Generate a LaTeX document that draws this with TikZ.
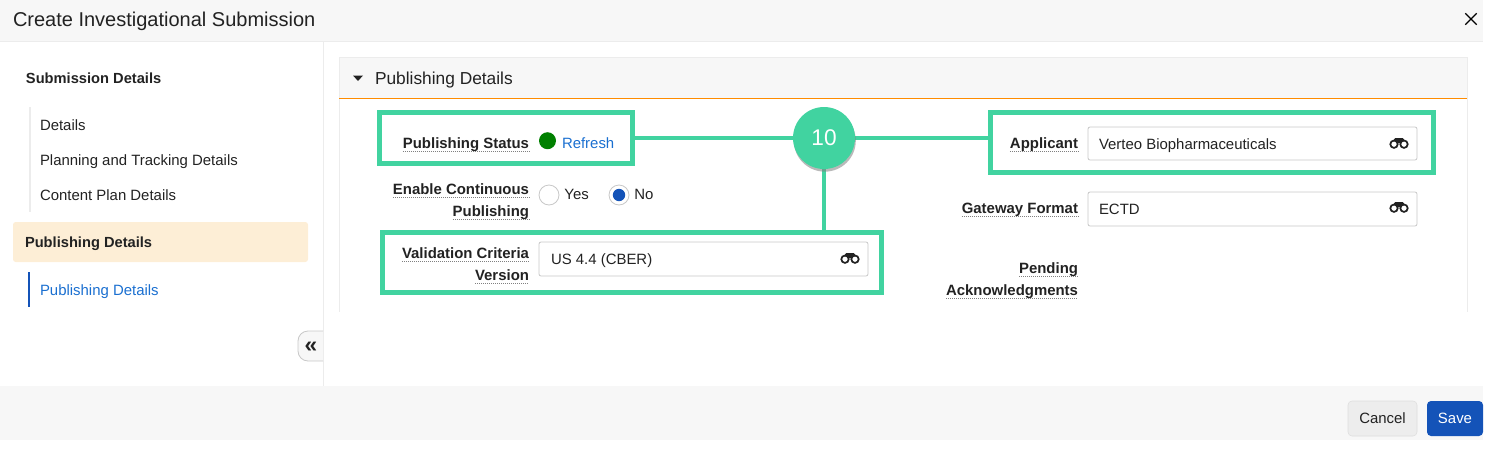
\documentclass[tikz,border=0pt]{standalone}
\usepackage{fontspec}
\setmainfont{Liberation Sans}
\usetikzlibrary{positioning}
\usetikzlibrary{shapes.misc}
\usetikzlibrary{shadows}
\newcommand{\Px}{0.75pt}
\definecolor{ink}{HTML}{222222}
\definecolor{callout}{HTML}{41D3A0}
\definecolor{barbg}{HTML}{F7F7F7}
\definecolor{rule}{HTML}{ECECEC}
\definecolor{fieldrule}{HTML}{C8C8C8}
\definecolor{linkblue}{HTML}{1A6FD0}
\definecolor{btnblue}{HTML}{1453B8}
\definecolor{activebg}{HTML}{FDEED6}
\tikzstyle{bar} = [rectangle,fill=barbg,draw=none,inner sep=0pt,outer sep=0pt]
\tikzstyle{txt} = [inner sep=0pt,outer sep=0pt,text=ink,font=\fontsize{11.2}{13}\selectfont,anchor=base west]
\tikzstyle{menuhead} = [txt,font=\fontsize{11}{13}\bfseries\selectfont]
\tikzstyle{fieldlabel} = [txt,font=\fontsize{11.2}{13}\bfseries\selectfont,anchor=base east]
\tikzstyle{field} = [rectangle,draw=fieldrule,fill=white,rounded corners=1.5pt,line width=0.6pt,minimum width=329*\Px,inner sep=0pt]
\tikzstyle{greenbox} = [rectangle,draw=callout,line width=5*\Px,inner sep=0pt,outer sep=0pt]
\tikzstyle{radio} = [circle,draw=fieldrule,fill=white,line width=0.6pt,minimum size=20*\Px,inner sep=0pt]
\tikzstyle{btn} = [rectangle,rounded corners=3pt,minimum height=35*\Px,inner sep=0pt,font=\fontsize{11.2}{13}\selectfont]
\tikzstyle{link} = [draw=callout,line width=4*\Px]
\tikzstyle{dotline} = [draw=black!50,line width=0.5pt,dash pattern=on 0.75pt off 0.75pt]
\tikzset{binoc/.pic={
	\fill[ink,rounded corners=1pt] (-5,-5) rectangle (5,0);
	\draw[ink,line width=1.3pt,fill=white] (-5,1.2) circle (3.7) (5,1.2) circle (3.7);
}}

\begin{document}
\begin{tikzpicture}[x=\Px,y=-\Px]
\useasboundingbox (0,0) rectangle (1507,461);

% Header and footer
\node[bar,minimum width=1483*\Px,minimum height=41*\Px] (head) at (741.5,20.5) {};
\node[bar,minimum width=1483*\Px,minimum height=54*\Px] (foot) at (741.5,413) {};
\draw[rule,line width=0.7pt] (head.south west) -- (head.south east);
\node[txt,font=\fontsize{15}{18}\selectfont] (title) at (13,26) {Create Investigational Submission};
\node[cross out,draw=black,line width=1pt,minimum size=10*\Px,inner sep=0pt] (close) at (1471,19) {};
\coordinate (divtop) at (323.5,42);
\draw[rule,line width=0.7pt] (divtop) -- (divtop |- foot.north);

% Left menu
\node[menuhead] (subm) at (26,83) {Submission Details};
\draw[rule,line width=1.5pt] (29.5,107) -- (29.5,212);
\node[txt] (det) at (40,130) {Details};
\node[txt] (plan) at (40,165) {Planning and Tracking Details};
\node[txt] (cont) at (40,200) {Content Plan Details};
\node[rectangle,fill=activebg,rounded corners=2pt,minimum width=295*\Px,minimum height=40*\Px,inner sep=0pt] (active) at (160.5,242) {};
\node[menuhead] (pubh) at (25,247) {Publishing Details};
\draw[btnblue,line width=1.5pt] (29,272) -- (29,307);
\node[txt,text=linkblue] (pubi) at (40,295) {Publishing Details};
\draw[fieldrule,fill=barbg,line width=0.6pt] (323,331) -- (308,331) to[out=180,in=90] (298,341) -- (298,351) to[out=270,in=180] (308,361) -- (323,361);
\node[inner sep=0pt,text=ink,font=\fontsize{17}{17}\bfseries\selectfont] (collapse) at (311,347.5) {«};

% Panel
\node[bar,minimum width=1128*\Px,minimum height=41*\Px] (phead) at (903,77.5) {};
\draw[rule,line width=0.6pt] (phead.south west) -- (339,312) (phead.south east) -- (1467,312);
\draw[rule,line width=0.6pt] (phead.south west) -- (phead.north west) -- (phead.north east) -- (phead.south east);
\draw[orange!90!yellow,line width=0.7pt] (phead.south west) -- (phead.south east);
\fill[ink] (353,75.5) -- (363,75.5) -- (358,81) -- cycle;
\node[txt,font=\fontsize{13}{15}\selectfont] (ptitle) at (375,84) {Publishing Details};

% Callout boxes
\node[greenbox,minimum width=253*\Px,minimum height=51*\Px] (statusbox) at (506,138) {};
\node[greenbox,minimum width=443*\Px,minimum height=60*\Px] (applbox) at (1212,142.5) {};
\node[greenbox,minimum width=498.5*\Px,minimum height=60*\Px] (valbox) at (631.75,262.5) {};

% Left column
\node[fieldlabel] (status) at (529,148) {Publishing Status};
\node[circle,fill=green!50!black,minimum size=17*\Px,inner sep=0pt] (dot) at (547.5,140.7) {};
\node[txt,text=linkblue] (refresh) at (562,148) {Refresh};
\node[fieldlabel] (cont1) at (529,194) {Enable Continuous};
\node[fieldlabel] (cont2) at (529,216) {Publishing};
\node[radio] (yes) at (549,195) {};
\node[txt,anchor=west,right=5*\Px of yes,yshift=0.3pt] (yestxt) {Yes};
\node[radio] (no) at (619,195) {};
\fill[btnblue] (no) circle (6.2);
\node[txt,anchor=west,right=5*\Px of no,yshift=0.3pt] (notxt) {No};
\node[fieldlabel] (val1) at (529,258) {Validation Criteria};
\node[fieldlabel] (val2) at (529,280) {Version};
\node[field,minimum height=34*\Px] (valf) at (703.5,259) {};
\node[txt] (valt) at (551,264) {US 4.4 (CBER)};
\pic at (850,258) {binoc};

% Right column
\node[fieldlabel] (appl) at (1078,148) {Applicant};
\node[field,minimum height=33*\Px] (applf) at (1252.5,143.5) {};
\node[txt] (applt) at (1099,149) {Verteo Biopharmaceuticals};
\pic at (1399,143) {binoc};
\node[fieldlabel] (gate) at (1078,213) {Gateway Format};
\node[field,minimum height=34*\Px] (gatef) at (1252.5,209) {};
\node[txt] (gatet) at (1099,214) {ECTD};
\pic at (1399,207) {binoc};
\node[fieldlabel] (pend1) at (1078,273) {Pending};
\node[fieldlabel] (pend2) at (1078,295) {Acknowledgments};

\foreach \n in {status,cont1,cont2,val1,val2,appl,gate,pend1,pend2}{
	\draw[dotline] ([yshift=-2.7pt]\n.base west) -- ([yshift=-2.7pt]\n.base east);
}

% Number and edges
\coordinate (numc) at (824,138);
\draw[link] (statusbox.east) -- (numc -| applbox.west);
\draw[link] (numc) -- (numc |- valbox.north);
\node[circle,fill=callout,minimum size=62*\Px,inner sep=0pt,text=white,font=\fontsize{17}{17}\selectfont,drop shadow={shadow xshift=0.6pt,shadow yshift=-2pt,opacity=.55}] (num) at (numc) {10};

% Buttons
\node[btn,fill=black!7,draw=black!13,minimum width=69*\Px,text=ink] (cancel) at (1382.5,418.5) {Cancel};
\node[btn,fill=btnblue,minimum width=56*\Px,text=white] (save) at (1455,418.5) {Save};
\end{tikzpicture}
\end{document}
